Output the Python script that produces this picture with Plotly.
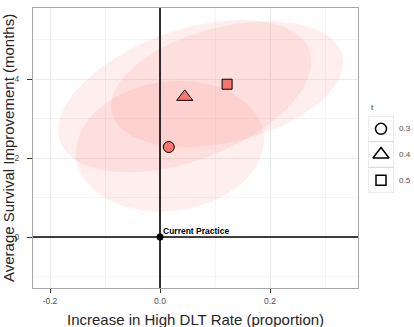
import numpy as np
import plotly.graph_objects as go

W, H = 414, 327
# panel in pixels
PL, PR, PT, PB = 33, 358, 8, 288

# ---------------- data ----------------
t_levels = ["0.3", "0.4", "0.5"]
dlt_increase = [0.016, 0.045, 0.122]
surv_improve = [2.28, 3.55, 3.87]
marker_symbols = ["circle", "triangle-up", "square"]
marker_sizes = [11, 14, 10]

# uncertainty ellipses (centre, half-extent in x and y, correlation)
ell_cx = [0.018, 0.045, 0.122]
ell_cy = [2.30, 3.57, 3.87]
ell_hx = [0.171, 0.230, 0.211]
ell_hy = [1.65, 1.93, 1.59]
ell_rho = [0.10, 0.45, 0.35]

ref_x = [0.0]
ref_y = [0.0]
ref_label = "Current Practice"

x_ticks = [-0.2, 0.0, 0.2]
x_ticktext = ["-0.2", "0.0", "0.2"]
x_minor = [-0.1, 0.1, 0.3]
y_ticks = [0, 2, 4]
y_ticktext = ["0", "2", "4"]
y_minor = [-1, 1, 3, 5]
x_range = [-0.2309, 0.36]
y_range = [-1.29, 5.80]

x_title = "Increase in High DLT Rate (proportion)"
y_title = "Average Survival Improvement (months)"
legend_title = "t"

FILL = "#F8766D"
FONT = "Liberation Sans, Arial, sans-serif"

fig = go.Figure()

# ellipses
tt = np.linspace(0, 2 * np.pi, 200)
for cx, cy, hx, hy, r in zip(ell_cx, ell_cy, ell_hx, ell_hy, ell_rho):
    ex = cx + hx * np.cos(tt)
    ey = cy + hy * (r * np.cos(tt) + np.sqrt(1 - r * r) * np.sin(tt))
    fig.add_trace(go.Scatter(x=ex, y=ey, mode="lines", fill="toself",
                             fillcolor="rgba(248,118,109,0.12)",
                             line=dict(width=0), hoverinfo="skip",
                             showlegend=False, xaxis="x", yaxis="y"))

# reference lines
fig.add_shape(type="line", xref="x", yref="y domain", x0=ref_x[0], x1=ref_x[0],
              y0=0, y1=1, line=dict(color="black", width=1.6), layer="above")
fig.add_shape(type="line", xref="x domain", yref="y", x0=0, x1=1,
              y0=ref_y[0], y1=ref_y[0], line=dict(color="black", width=1.6), layer="above")

# current practice point + label
fig.add_trace(go.Scatter(x=ref_x, y=ref_y, mode="markers",
                         marker=dict(color="black", size=7), showlegend=False,
                         cliponaxis=False))
fig.add_annotation(x=ref_x[0], y=ref_y[0], xref="x", yref="y", text=ref_label,
                   showarrow=False, xanchor="left", yanchor="bottom", xshift=1, yshift=-1,
                   font=dict(family=FONT, size=8.5, color="black", weight="bold"))

# strategy points
for xv, yv, sym, sz in zip(dlt_increase, surv_improve, marker_symbols, marker_sizes):
    fig.add_trace(go.Scatter(x=[xv], y=[yv], mode="markers",
                             marker=dict(symbol=sym, size=sz, color=FILL,
                                         line=dict(color="black", width=1)),
                             showlegend=False))

# manual legend on its own axes
LX0, LX1, LY0, LY1 = 368, 394, 116, 193
n = len(t_levels)
for i, (lab, sym, sz) in enumerate(zip(t_levels, marker_symbols, marker_sizes)):
    yc = n - i - 0.5
    fig.add_shape(type="rect", xref="x2", yref="y2", x0=0, x1=1, y0=yc - 0.5, y1=yc + 0.5,
                  line=dict(color="#D9D9D9", width=1), fillcolor="white", layer="below")
    fig.add_trace(go.Scatter(x=[0.5], y=[yc], mode="markers", xaxis="x2", yaxis="y2",
                             marker=dict(symbol=sym + "-open", size=sz, color="black",
                                         line=dict(width=1.5)),
                             showlegend=False, hoverinfo="skip"))
    fig.add_annotation(x=1, y=yc, xref="x2", yref="y2", text=lab, showarrow=False,
                       xanchor="left", xshift=3, font=dict(family=FONT, size=8, color="#4D4D4D"))
fig.add_annotation(x=0, y=n, xref="x2", yref="y2", text=legend_title, showarrow=False,
                   xanchor="left", yanchor="bottom", yshift=2, xshift=1,
                   font=dict(family=FONT, size=8, color="#333333"))

# axis titles
fig.add_annotation(x=(PL + PR) / 2 / W, y=1 - 319 / H, xref="paper", yref="paper",
                   text=x_title, showarrow=False, xanchor="center", yanchor="middle",
                   font=dict(family=FONT, size=15, color="#262626"))
fig.add_annotation(x=8 / W, y=1 - (PT + PB) / 2 / H, xref="paper", yref="paper",
                   text=y_title, showarrow=False, textangle=-90, xanchor="center",
                   yanchor="middle", font=dict(family=FONT, size=15, color="#262626"))

grid_major = "#EBEBEB"
grid_minor = "#F4F4F4"
fig.update_layout(
    width=W, height=H, margin=dict(l=0, r=0, t=0, b=0),
    paper_bgcolor="white", plot_bgcolor="white",
    font=dict(family=FONT),
    showlegend=False,
    xaxis=dict(domain=[PL / W, PR / W], range=x_range, tickvals=x_ticks, ticktext=x_ticktext,
               showgrid=True, gridcolor=grid_major, gridwidth=1, zeroline=False,
               minor=dict(tickvals=x_minor, showgrid=True, gridcolor=grid_minor, gridwidth=1),
               ticks="outside", ticklen=4, tickwidth=1, tickcolor="#333333",
               ticklabelstandoff=1,
               tickfont=dict(family=FONT, size=8.5, color="#4D4D4D"),
               showline=True, mirror=True, linecolor="#A6A6A6", linewidth=1,
               automargin=False, anchor="y", fixedrange=True),
    yaxis=dict(domain=[1 - PB / H, 1 - PT / H], range=y_range, tickvals=y_ticks, ticktext=y_ticktext,
               showgrid=True, gridcolor=grid_major, gridwidth=1, zeroline=False,
               minor=dict(tickvals=y_minor, showgrid=True, gridcolor=grid_minor, gridwidth=1),
               ticks="outside", ticklen=5, tickwidth=1, tickcolor="#333333",
               ticklabelstandoff=6,
               tickfont=dict(family=FONT, size=8.5, color="#4D4D4D"),
               showline=True, mirror=True, linecolor="#A6A6A6", linewidth=1,
               automargin=False, anchor="x", fixedrange=True),
    xaxis2=dict(domain=[LX0 / W, LX1 / W], range=[0, 1], visible=False, anchor="y2", fixedrange=True),
    yaxis2=dict(domain=[1 - LY1 / H, 1 - LY0 / H], range=[0, n], visible=False, anchor="x2", fixedrange=True),
)

fig.write_html("out.html", config={"displayModeBar": False})
